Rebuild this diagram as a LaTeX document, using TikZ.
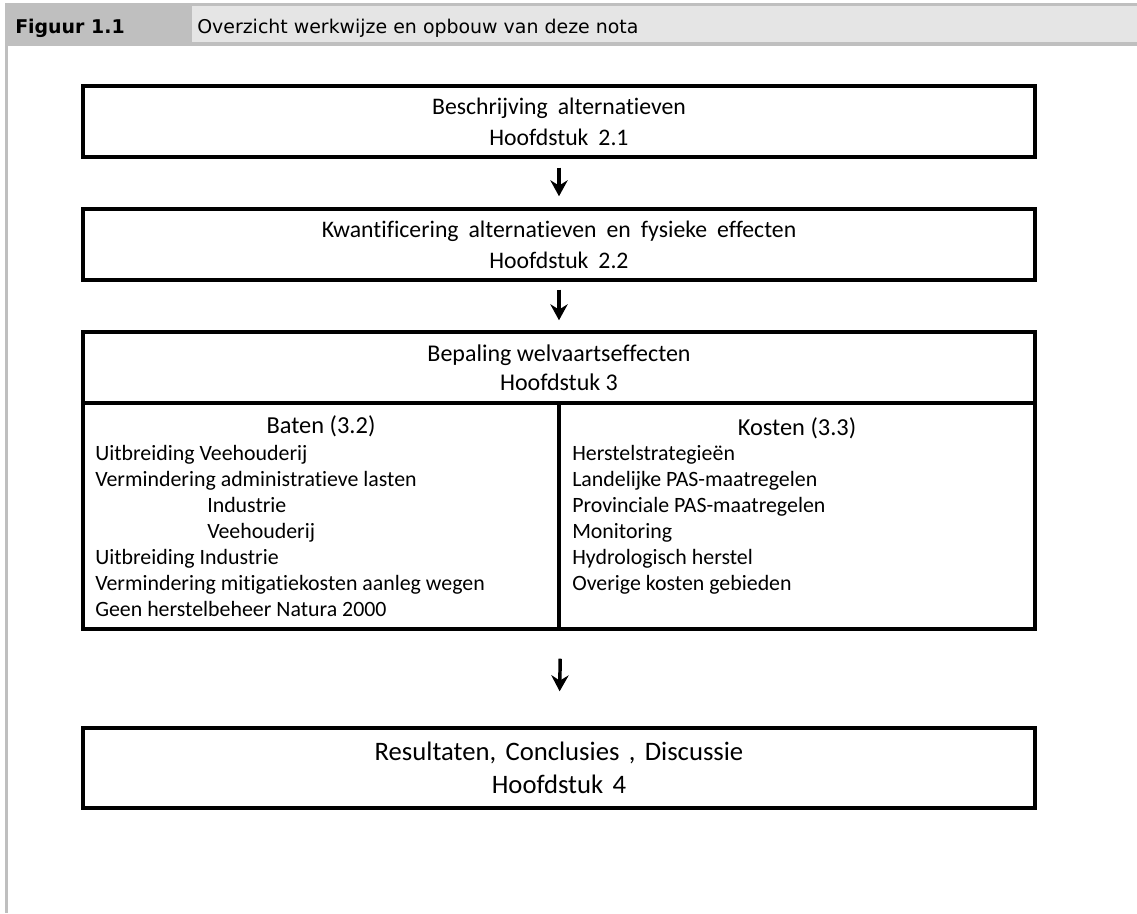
\documentclass[tikz,border=0pt]{standalone}
\usepackage{fontspec}
\setmainfont{Carlito}[Ligatures = NoCommon]
\newfontfamily\kopfont{DejaVu Sans}
\usepackage{tikz}
\usetikzlibrary{arrows.meta}
\definecolor{kopdonker}{gray}{0.75}
\definecolor{koplicht}{gray}{0.90}
\tikzstyle{hoofdbox} =
[rectangle, minimum width = 714pt, minimum height = 53.25pt, inner sep = 0pt,
text centered, align = center, draw=black, line width = 2.6pt,
font = \fontsize{17.8}{23.25}\selectfont,
execute at begin node = {\spaceskip=0.42em\relax}]
\tikzstyle{welvaart} =
[rectangle, minimum width = 714pt, minimum height = 53.25pt, inner sep = 0pt,
text centered, align = center, draw=black, line width = 2.6pt,
font = \fontsize{18}{21.75}\selectfont]
\tikzstyle{kolom} =
[rectangle, minimum width = 357pt, minimum height = 169.5pt, inner sep = 0pt,
draw=black, line width = 2.6pt]
\tikzstyle{kolomkop} =
[inner sep = 0pt, font = \fontsize{18.3}{21}\selectfont]
\tikzstyle{lijst} =
[inner sep = 0pt, align = left, font = \fontsize{16.4}{19.5}\selectfont]
\tikzstyle{slotbox} =
[rectangle, minimum width = 714pt, minimum height = 60pt, inner sep = 0pt,
text centered, align = center, draw=black, line width = 2.6pt,
font = \fontsize{20}{24.75}\selectfont,
execute at begin node = {\spaceskip=0.35em\relax}]
\tikzstyle{kop} = [inner sep = 0pt, anchor = base west, font = \kopfont\fontsize{14.2}{16}\selectfont]
\tikzstyle{line} = [draw, line width = 2.6pt, -{Stealth[length=12pt, width=13pt, inset=4pt]}]

\begin{document}
\begin{tikzpicture}[x = 0.75pt, y = -0.75pt]
  \useasboundingbox (0,0) rectangle (1137,913);
  % kop van de figuur
  \fill [kopdonker] (5,3) rectangle (1137,46);
  \fill [koplicht] (192,6) rectangle (1137,42);
  \fill [kopdonker] (5,46) rectangle (8,913);
  \node [kop] (nummer) at (15,34) {\bfseries Figuur 1.1};
  \node [kop] (titel) at (197,34) {Overzicht werkwijze en opbouw van deze nota};
  %
  % 1st level nodes
  \node [hoofdbox] (beschrijving) at (559,121.5)
   {Beschrijving alternatieven\\Hoofdstuk 2.1};
  \node [hoofdbox] (kwantificering) at (559,244.5)
   {Kwantificering alternatieven en fysieke effecten\\Hoofdstuk 2.2};
  \node [welvaart] (welvaart) at (559,367.5)
   {Bepaling welvaartseffecten\\Hoofdstuk 3};
  \node [kolom] (baten) at (321,516) {};
  \node [kolom] (kosten) at (797,516) {};
  \node [slotbox] (resultaten) at (559,768)
   {Resultaten, Conclusies , Discussie\\Hoofdstuk 4};
  %
  % 2nd level nodes
  \node [kolomkop] (batenkop) at (321,426) {Baten (3.2)};
  \node [kolomkop] (kostenkop) at (797,428) {Kosten (3.3)};
  \node [lijst, anchor = north west] (batenlijst) at (95,445)
   {Uitbreiding Veehouderij\\
    Vermindering administratieve lasten\\
    \hspace*{84pt}Industrie\\
    \hspace*{84pt}Veehouderij\\
    Uitbreiding Industrie\\
    Vermindering mitigatiekosten aanleg wegen\\
    Geen herstelbeheer Natura 2000};
  \node [lijst, anchor = north west] (kostenlijst) at (572,445)
   {Herstelstrategieën\\
    Landelijke PAS-maatregelen\\
    Provinciale PAS-maatregelen\\
    Monitoring\\
    Hydrologisch herstel\\
    Overige kosten gebieden};
  %
  % edges
  \path [line, shorten <= 6.75pt, shorten >= 8.25pt] (beschrijving) -- (kwantificering);
  \path [line, shorten <= 6pt, shorten >= 7.5pt] (kwantificering) -- (welvaart);
  \path [line, shorten <= 21pt, shorten >= 26.25pt] (baten.south east) -- (resultaten.north);
\end{tikzpicture}
\end{document}
